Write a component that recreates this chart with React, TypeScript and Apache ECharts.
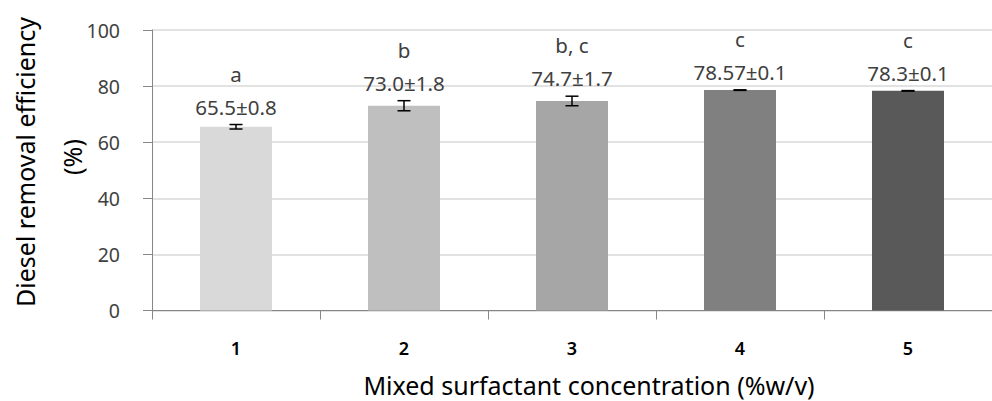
import React, { useEffect, useRef } from "react";
import * as echarts from "echarts";

const categories = ["1", "2", "3", "4", "5"];
const means = [65.5, 73.0, 74.7, 78.57, 78.3];
const errors = [0.8, 1.8, 1.7, 0.1, 0.1];
const valueLabels = ["65.5±0.8", "73.0±1.8", "74.7±1.7", "78.57±0.1", "78.3±0.1"];
const groupLetters = ["a", "b", "b, c", "c", "c"];
const barColors = ["#d9d9d9", "#bfbfbf", "#a6a6a6", "#808080", "#595959"];
const yTicks = { min: 0, max: 100, interval: 20 };

const FONT = "'Noto Sans', 'DejaVu Sans', sans-serif";

export default function App() {
  const ref = useRef<HTMLDivElement>(null);
  useEffect(() => {
    if (!ref.current) return;
    const chart = echarts.init(ref.current, null, { renderer: "svg" });
    const option: any = {
      animation: false,
      grid: { left: 152, right: -8, top: 30, bottom: 90.5 },
      xAxis: {
        type: "category",
        data: categories,
        axisLine: { lineStyle: { color: "#868686", width: 1 } },
        axisTick: { show: true, length: 9, lineStyle: { color: "#868686" } },
        axisLabel: { color: "#000", fontSize: 18, fontWeight: 600, fontFamily: FONT, margin: 28 },
      },
      yAxis: {
        type: "value",
        min: yTicks.min,
        max: yTicks.max,
        interval: yTicks.interval,
        axisLine: { show: true, lineStyle: { color: "#868686", width: 1 } },
        axisTick: { show: true, length: 9, inside: false, lineStyle: { color: "#868686" } },
        splitLine: { lineStyle: { color: "#d9d9d9", width: 1.5 } },
        axisLabel: { color: "#404040", fontSize: 19.5, fontFamily: FONT, margin: 32 },
      },
      series: [
        {
          type: "bar",
          barWidth: 72,
          data: means.map((v, i) => ({ value: v, itemStyle: { color: barColors[i] } })),
        },
        {
          type: "custom",
          encode: { x: 0, y: 1 },
          data: means.map((v, i) => [i, v, errors[i]]),
          z: 10,
          renderItem: (params: any, api: any) => {
            const i = api.value(0);
            const v = api.value(1);
            const e = api.value(2);
            const top = api.coord([i, v + e]);
            const bot = api.coord([i, v - e]);
            const x = top[0];
            const cap = 6.5;
            const lineStyle = { stroke: "#000", lineWidth: 1.5 };
            return {
              type: "group",
              children: [
                { type: "line", shape: { x1: x, y1: top[1], x2: x, y2: bot[1] }, style: lineStyle },
                { type: "line", shape: { x1: x - cap, y1: top[1], x2: x + cap, y2: top[1] }, style: lineStyle },
                { type: "line", shape: { x1: x - cap, y1: bot[1], x2: x + cap, y2: bot[1] }, style: lineStyle },
                {
                  type: "text",
                  style: {
                    text: valueLabels[i],
                    x: x,
                    y: top[1] - 18,
                    align: "center",
                    verticalAlign: "middle",
                    fill: "#404040",
                    fontSize: 20.5,
                    fontFamily: FONT,
                  },
                },
                {
                  type: "text",
                  style: {
                    text: groupLetters[i],
                    x: x,
                    y: top[1] - 51,
                    align: "center",
                    verticalAlign: "middle",
                    fill: "#404040",
                    fontSize: 20.5,
                    fontFamily: FONT,
                  },
                },
              ],
            };
          },
        },
      ],
      graphic: [
        {
          type: "text",
          x: 25,
          y: 162,
          rotation: Math.PI / 2,
          style: {
            text: "Diesel removal efficiency",
            align: "center",
            verticalAlign: "middle",
            fill: "#000",
            fontSize: 25,
            lineHeight: 26,
            fontFamily: FONT,
          },
        },
        {
          type: "text",
          x: 72,
          y: 157,
          rotation: Math.PI / 2,
          style: {
            text: "(%)",
            align: "center",
            verticalAlign: "middle",
            fill: "#000",
            fontSize: 25,
            lineHeight: 26,
            fontFamily: FONT,
          },
        },
        {
          type: "text",
          x: 589,
          y: 385,
          style: {
            text: "Mixed surfactant concentration (%w/v)",
            align: "center",
            verticalAlign: "middle",
            fill: "#000",
            fontSize: 25,
            lineHeight: 26,
            fontFamily: FONT,
          },
        },
      ],
    };
    chart.setOption(option);
    return () => chart.dispose();
  }, []);
  return (
    <div
      ref={ref}
      style={{ position: "absolute", left: 0, top: 0, width: 992, height: 401, background: "#fff" }}
    />
  );
}
